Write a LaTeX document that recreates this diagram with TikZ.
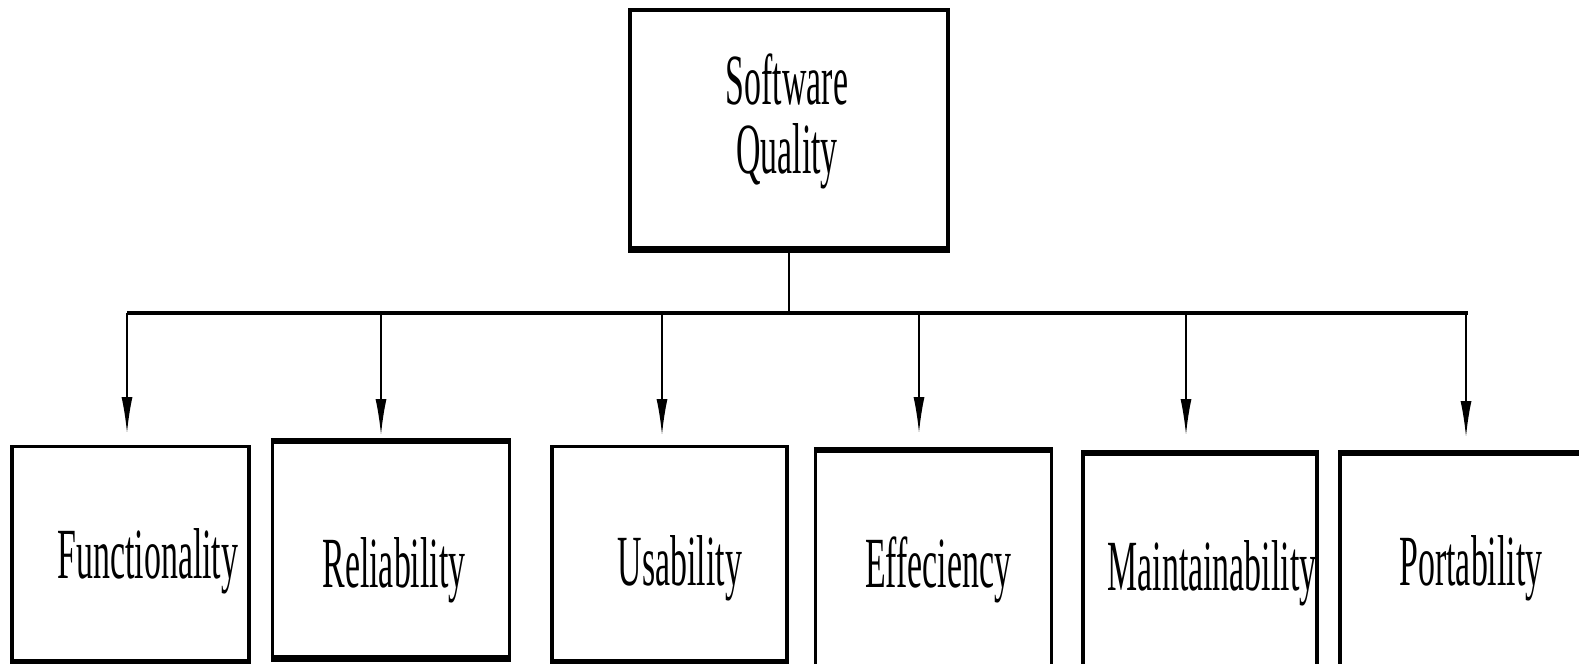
\documentclass[tikz,border=0pt]{standalone}
\usepackage{fontspec}
\setmainfont{Liberation Serif}[FakeStretch=0.47]
\usetikzlibrary{arrows.meta,calc}
\tikzset{>={Latex[length=3.6mm,width=1.1mm]}}
\tikzset{
  qbox/.style={draw, line width=0.9pt, minimum width=2.37cm, minimum height=2.14cm, inner sep=0pt},
  qtext/.style={font=\fontsize{20.5}{19.6}\selectfont, inner sep=0pt, align=center},
}

\begin{document}
\begin{tikzpicture}
    \useasboundingbox (0,0) rectangle (15.79,6.63);
    % top box
    \node [qbox, line width=1.1pt, minimum width=3.18cm, minimum height=2.38cm] (sq) at (7.89,5.34) {};
    \node [qtext] (sqtext) at (7.87,5.42) {Software\\Quality};
    % the six characteristics
    \node [qbox] (func) at (1.305,1.095) {};
    \node [qbox, minimum height=2.15cm] (rel) at (3.91,1.135) {};
    \node [qbox, minimum width=2.35cm] (usab) at (6.695,1.095) {};
    \node [qbox, minimum width=2.36cm, minimum height=2.2cm] (eff) at (9.335,1.02) {};
    \node [qbox, minimum width=2.34cm, minimum height=2.2cm] (maint) at (12.00,0.99) {};
    \node [qbox, minimum width=2.8cm, minimum height=2.2cm] (port) at (14.80,0.99) {};
    \node [qtext, anchor=base] (functext) at (1.48,0.85) {Functionality};
    \node [qtext, anchor=base] (reltext) at (3.94,0.76) {Reliability};
    \node [qtext, anchor=base] (usabtext) at (6.80,0.78) {Usability};
    \node [qtext, anchor=base] (efftext) at (9.38,0.76) {Effeciency};
    \node [qtext, anchor=base] (mainttext) at (12.12,0.73) {Maintainability};
    \node [qtext, anchor=base] (porttext) at (14.71,0.78) {Portability};
    % heavier edges
    \foreach \n in {sq,func,rel,usab}
      \draw [line width=1.9pt] (\n.south west) -- (\n.south east);
    \foreach \n in {rel,eff,maint,port}
      \draw [line width=1.6pt] (\n.north west) -- (\n.north east);
    % bus and arrows
    \coordinate (busl) at (1.27,3.50);
    \coordinate (busr) at (14.68,3.50);
    \draw [line width=0.5pt] (sq.south) -- (sq.south |- busl);
    \draw [line width=1.2pt] (busl) -- (busr);
    \coordinate (func-in) at (1.27,2.30);
    \coordinate (rel-in) at (3.81,2.28);
    \coordinate (usab-in) at (6.62,2.28);
    \coordinate (eff-in) at (9.19,2.30);
    \coordinate (maint-in) at (11.86,2.28);
    \coordinate (port-in) at (14.66,2.26);
    \foreach \n in {func,rel,usab,eff,maint,port}
      \draw [->, line width=0.5pt] (\n-in |- busl) -- (\n-in);
\end{tikzpicture}
\end{document}
